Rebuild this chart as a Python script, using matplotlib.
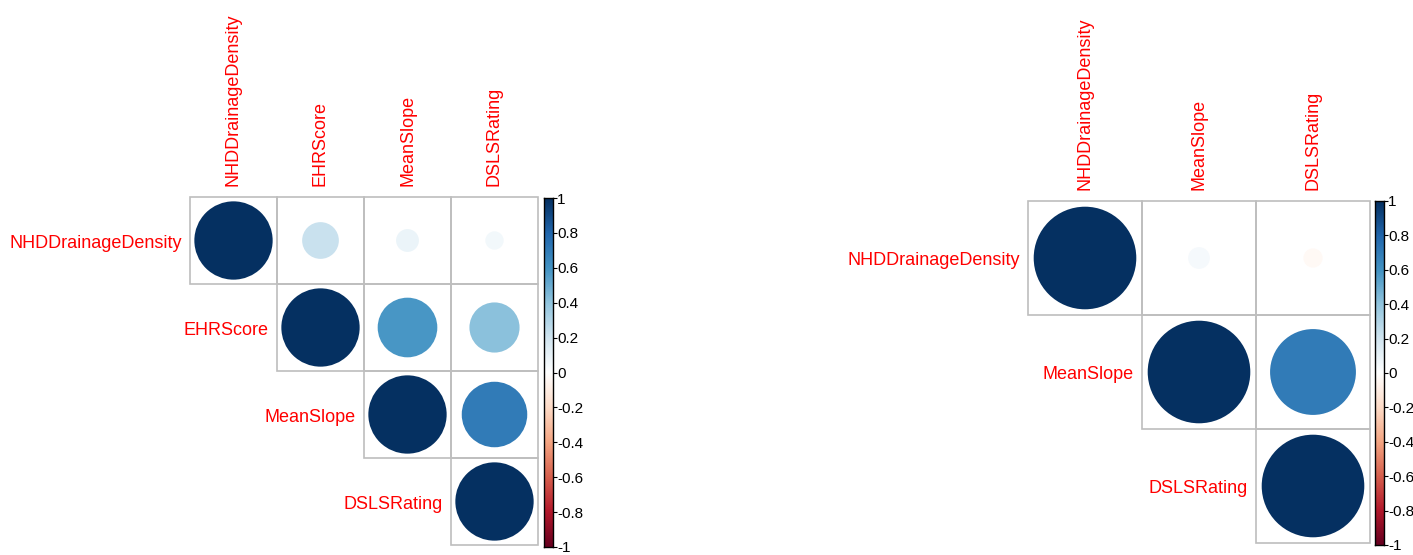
import numpy as np
import matplotlib
matplotlib.use("Agg")
import matplotlib.pyplot as plt
from matplotlib.colors import LinearSegmentedColormap
from matplotlib.patches import Circle, Rectangle

plt.rcParams['font.family'] = ['Liberation Sans', 'DejaVu Sans']

# Left panel: four variables
vars_a = ["NHDDrainageDensity", "EHRScore", "MeanSlope", "DSLSRating"]
corr_a = [
    [1.00, 0.22, 0.085, 0.055],
    [0.22, 1.00, 0.58, 0.41],
    [0.085, 0.58, 1.00, 0.70],
    [0.055, 0.41, 0.70, 1.00],
]

# Right panel: three variables
vars_b = ["NHDDrainageDensity", "MeanSlope", "DSLSRating"]
corr_b = [
    [1.00, 0.045, -0.035],
    [0.045, 1.00, 0.70],
    [-0.035, 0.70, 1.00],
]

cbar_ticks = [1, 0.8, 0.6, 0.4, 0.2, 0, -0.2, -0.4, -0.6, -0.8, -1]
cbar_labels = ["1", "0.8", "0.6", "0.4", "0.2", "0", "-0.2", "-0.4", "-0.6", "-0.8", "-1"]

rdbu = ["#67001F", "#B2182B", "#D6604D", "#F4A582", "#FDDBC7", "#FFFFFF",
        "#D1E5F0", "#92C5DE", "#4393C3", "#2166AC", "#053061"]
cmap = LinearSegmentedColormap.from_list("corr", rdbu, N=200)

W, H = 1413, 555
fig = plt.figure(figsize=(W / 100, H / 100), dpi=100)


def px_axes(x0, y0, x1, y1):
    return fig.add_axes([x0 / W, (H - y1) / H, (x1 - x0) / W, (y1 - y0) / H])


def corr_panel(names, mat, box, cbox):
    n = len(names)
    mat = np.asarray(mat)
    ax = px_axes(*box)
    ax.set_xlim(0.5, n + 0.5)
    ax.set_ylim(n + 0.5, 0.5)
    ax.set_axis_off()
    for i in range(n):
        for j in range(i, n):
            ax.add_patch(Rectangle((j + 0.5, i + 0.5), 1, 1, fill=False,
                                   edgecolor="#BEBEBE", lw=1.2, clip_on=False))
            v = mat[i, j]
            ax.add_patch(Circle((j + 1, i + 1), 0.45 * np.sqrt(abs(v)),
                                facecolor=cmap((v + 1) / 2), edgecolor="none"))
    for k, name in enumerate(names):
        ax.annotate(name, (k + 0.5, k + 1), xytext=(-6, -2), textcoords="offset points",
                    ha="right", va="center", color="red", fontsize=13,
                    annotation_clip=False)
        ax.annotate(name, (k + 1, 0.5), xytext=(0, 8), textcoords="offset points",
                    ha="center", va="bottom", rotation=90, color="red", fontsize=13,
                    annotation_clip=False)

    cax = px_axes(*cbox)
    grad = np.linspace(1, -1, 200).reshape(-1, 1)
    cax.imshow(grad, cmap=cmap, vmin=-1, vmax=1, aspect="auto",
               extent=(0, 1, -1, 1), origin="upper")
    cax.set_xlim(0, 1)
    cax.set_ylim(-1, 1)
    cax.set_xticks([])
    cax.yaxis.tick_right()
    cax.set_yticks(cbar_ticks)
    cax.set_yticklabels(cbar_labels)
    cax.tick_params(axis="y", length=3, width=0.8, pad=0, labelsize=11,
                    colors="black")
    for s in cax.spines.values():
        s.set_color("black")
        s.set_linewidth(1.0)


corr_panel(vars_a, corr_a, (190, 197, 538, 545), (544, 198, 553, 547))
corr_panel(vars_b, corr_b, (1028, 201, 1370, 543), (1375, 201, 1384, 545))

fig.savefig("out.png", dpi=100, facecolor="white")
